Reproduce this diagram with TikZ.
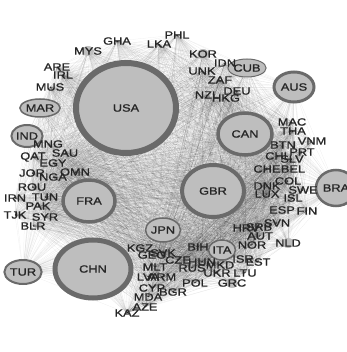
\documentclass[tikz,border=0pt]{standalone}
\usepackage{fontspec}
\setmainfont{Liberation Sans}[FakeStretch=1.22,FakeBold=1.2]
\usetikzlibrary{shapes.geometric,backgrounds}

\definecolor{hubfill}{HTML}{BEBEBE}
\definecolor{hubring}{HTML}{6A6A6A}

\tikzset{
    country/.style={
        inner sep=0pt,
        text=black!85,
        font=\fontsize{10.5}{10.5}\selectfont
    },
    hub/.style={
        country,
        ellipse,
        draw=hubring,
        fill=hubfill
    },
    link/.style={
        draw=black,
        line width=0.25pt,
        opacity=0.07
    }
}

\begin{document}
\begin{tikzpicture}[x=1pt,y=-1pt]
\useasboundingbox (0,0) rectangle (346,352);

% Large countries
\node[hub, minimum width=100, minimum height=90, line width=6] (USA) at (126,108) {USA};
\node[hub, minimum width=54, minimum height=42, line width=3.5] (CAN) at (245,134) {CAN};
\node[hub, minimum width=62, minimum height=52, line width=4] (GBR) at (213,191) {GBR};
\node[hub, minimum width=52, minimum height=42, line width=3.5] (FRA) at (89,201) {FRA};
\node[hub, minimum width=76, minimum height=58, line width=5] (CHN) at (93,269) {CHN};
\node[hub, minimum width=40, minimum height=30, line width=3] (AUS) at (294,87) {AUS};
\node[hub, minimum width=40, minimum height=36, line width=2.5] (BRA) at (336,188) {BRA};

% Medium countries
\node[hub, minimum width=35, minimum height=24, line width=1.5] (JPN) at (163,230) {JPN};
\node[hub, minimum width=26, minimum height=20, line width=1.5] (ITA) at (222,250) {ITA};
\node[hub, minimum width=28, minimum height=24, line width=2] (TUR) at (23,272) {TUR};
\node[hub, minimum width=30, minimum height=22, line width=2] (IND) at (27,136) {IND};
\node[hub, minimum width=26, minimum height=18, line width=1.5] (MAR) at (40,108) {MAR};
\node[hub, minimum width=24, minimum height=18, line width=1] (CUB) at (247,68) {CUB};

% Small countries with a dot
\foreach \n/\x/\y in {MYS/88/51, KOR/203/54, NLD/288/243, ESP/282/210, GRC/232/283, ISR/243/259}
    \fill[hubfill] (\x,\y) ellipse (6 and 5);

% Small countries
\foreach \n/\x/\y in {
    GHA/117/41, LKA/159/44, PHL/177/35, MYS/88/51, ARE/57/67, IRL/63/75, MUS/50/87,
    KOR/203/54, IDN/225/63, UNK/202/71, ZAF/220/80, DEU/237/91, NZL/207/95, HKG/226/98,
    MAC/292/122, THA/293/131, VNM/312/141, BTN/283/145, PRT/302/152, CHL/278/156,
    SLV/292/159, CHE/267/169, BEL/293/169, COL/288/181, DNK/267/186, SWE/303/190,
    LUX/267/194, ISL/293/198, ESP/282/210, FIN/307/211, SVN/277/223, HRV/246/228,
    SRB/259/227, AUT/260/236, NOR/252/245, NLD/288/243, ISR/243/259, EST/258/262,
    BIH/198/247, HUN/202/262, RUS/192/268, MKD/220/265, UKR/217/273, LTU/245/273,
    POL/195/283, GRC/232/283, KGZ/140/248, GEO/152/255, SVK/163/253, MLT/155/267,
    CZE/178/260, LVA/148/277, ARM/162/277, CYP/152/288, BGR/173/292, MDA/148/297,
    AZE/145/307, KAZ/127/313,
    MNG/48/144, SAU/65/153, QAT/33/157, EGY/53/163, JOR/32/173, OMN/75/172,
    NGA/53/177, ROU/32/187, IRN/15/198, TUN/45/197, PAK/38/206, TJK/15/215,
    SYR/45/217, BLR/33/226}
    \node[country] (\n) at (\x,\y) {\n};

% Trade links
\def\allcountries{USA,CAN,GBR,FRA,CHN,AUS,BRA,JPN,ITA,TUR,IND,MAR,CUB,
    GHA,LKA,PHL,MYS,ARE,IRL,MUS,KOR,IDN,UNK,ZAF,DEU,NZL,HKG,MAC,THA,VNM,BTN,PRT,
    CHL,SLV,CHE,BEL,COL,DNK,SWE,LUX,ISL,ESP,FIN,SVN,HRV,SRB,AUT,NOR,NLD,ISR,EST,
    BIH,HUN,RUS,MKD,UKR,LTU,POL,GRC,KGZ,GEO,SVK,MLT,CZE,LVA,ARM,CYP,BGR,MDA,AZE,
    KAZ,MNG,SAU,QAT,EGY,JOR,OMN,NGA,ROU,IRN,TUN,PAK,TJK,SYR,BLR}
\begin{scope}[on background layer]
\foreach \a [count=\i] in \allcountries
    \foreach \b [count=\j] in \allcountries
        {\ifnum\i<\j \draw[link] (\a.center) -- (\b.center); \fi}
\end{scope}

\end{tikzpicture}
\end{document}
